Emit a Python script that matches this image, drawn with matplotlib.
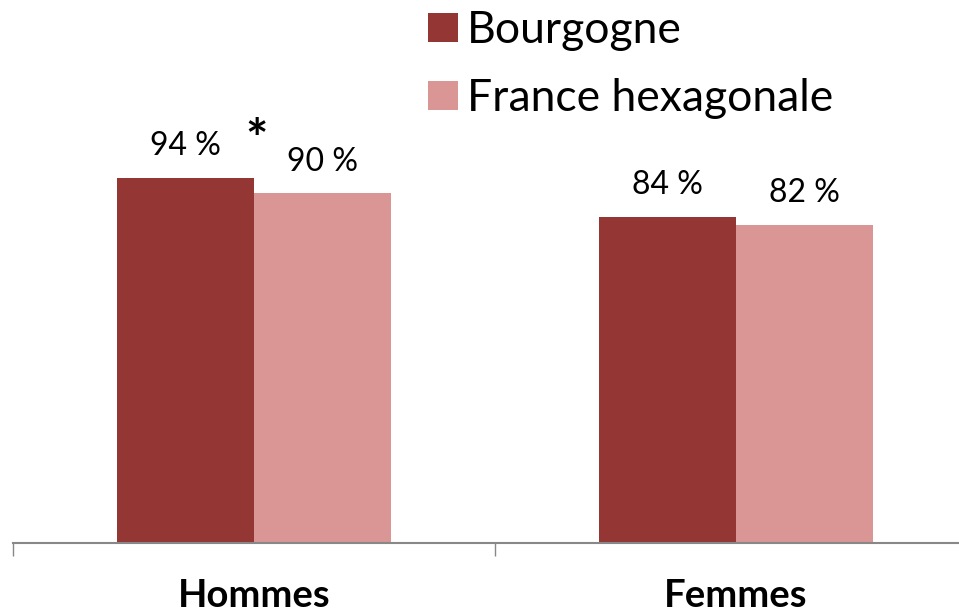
import matplotlib.pyplot as plt
import numpy as np

categories = ['Hommes', 'Femmes']
series = ['Bourgogne', 'France hexagonale']
bourgogne = [94, 84]
france = [90, 82]
colors = ['#943634', '#D99694']

plt.rcParams['font.family'] = ['Lato', 'DejaVu Sans']

fig = plt.figure(figsize=(9.59, 6.14), dpi=100)
ax = fig.add_axes([13 / 959, 71 / 614, 964 / 959, 543 / 614])

x = np.arange(len(categories))
w = 0.284
b1 = ax.bar(x - w / 2, bourgogne, w, color=colors[0], label=series[0])
b2 = ax.bar(x + w / 2, france, w, color=colors[1], label=series[1])

for bars, vals in [(b1, bourgogne), (b2, france)]:
    for rect, v in zip(bars, vals):
        ax.annotate(f'{v} %', (rect.get_x() + rect.get_width() / 2, v),
                    xytext=(0, 12), textcoords='offset points',
                    ha='center', va='bottom', fontsize=23)

# significance marker
ax.text(0.005, 103, '*', ha='center', va='center', fontsize=38, fontweight='bold')

ax.set_xlim(-0.5, 1.5)
ax.set_ylim(0, 139.8)
ax.set_yticks([])
for s in ['top', 'right', 'left']:
    ax.spines[s].set_visible(False)
ax.spines['bottom'].set_color('#888888')
ax.spines['bottom'].set_linewidth(1.5)

ax.set_xticks(x)
ax.set_xticklabels(categories, fontsize=27.5, fontweight='bold')
ax.tick_params(axis='x', which='major', length=0, pad=26)
ax.set_xticks([-0.5, 0.5, 1.5], minor=True)
ax.tick_params(axis='x', which='minor', length=9, color='#888888', width=1)

fig.legend(handles=[b1, b2], labels=series, loc='upper left',
           bbox_to_anchor=(428 / 959, 1 - 10 / 614), frameon=False,
           fontsize=32, handlelength=0.68, handleheight=0.64,
           handletextpad=0.2, labelspacing=0.61, borderaxespad=0, borderpad=0)

fig.savefig('out.png', dpi=100)
